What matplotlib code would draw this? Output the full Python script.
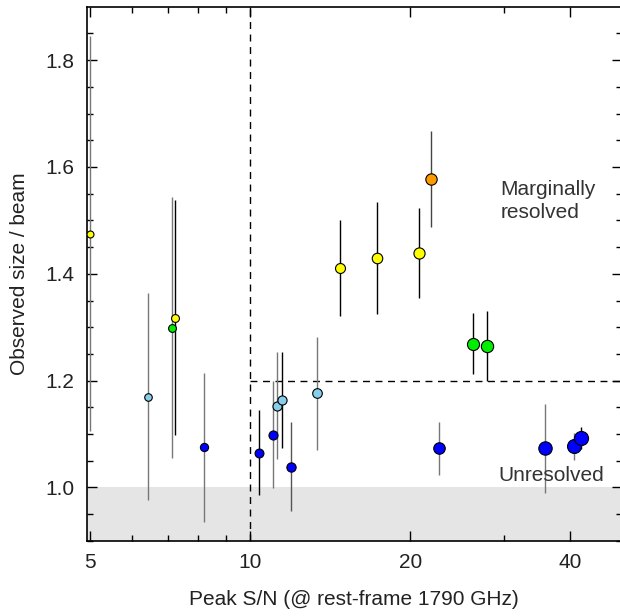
import numpy as np
import matplotlib
matplotlib.use("Agg")
import matplotlib.pyplot as plt
from matplotlib.ticker import FixedLocator, NullFormatter

plt.rcParams['font.family'] = ['Liberation Sans', 'DejaVu Sans']

# Données
snr = [5.0, 6.43, 7.13, 7.23, 8.19, 10.4, 11.05, 11.24, 11.49, 11.94, 13.37,
       14.77, 17.34, 20.8, 21.9, 22.66, 26.27, 27.92, 35.8, 40.6, 41.9]
size = [1.475, 1.170, 1.299, 1.318, 1.075, 1.065, 1.099, 1.153, 1.164, 1.039, 1.176,
        1.411, 1.430, 1.439, 1.578, 1.073, 1.269, 1.265, 1.073, 1.077, 1.093]
err = [0.37, 0.194, 0.244, 0.22, 0.139, 0.08, 0.10, 0.10, 0.09, 0.084, 0.105,
       0.09, 0.105, 0.085, 0.09, 0.05, 0.057, 0.066, 0.084, 0.025, 0.021]

# Couleurs des points et des barres d'erreur
colors = ['#ffff00', '#87ceeb', '#00ee00', '#ffff00', '#0000ff', '#0000ff', '#0000ff',
          '#87ceeb', '#87ceeb', '#0000ff', '#87ceeb', '#ffff00', '#ffff00', '#ffff00',
          '#ff9900', '#0000ff', '#00ee00', '#00ee00', '#0000ff', '#0000ff', '#0000ff']
ecolors = ['#777777', '#777777', '#777777', 'black', '#777777', 'black', '#777777',
           '#777777', 'black', '#555555', '#777777', 'black', 'black', 'black',
           '#444444', '#777777', 'black', 'black', '#777777', '#777777', 'black']

xticks = [5, 10, 20, 40]
xminor = [6, 7, 8, 9, 30]

fig = plt.figure(figsize=(6.2, 6.16), dpi=100)
ax = fig.add_axes([0.140, 0.122, 0.863, 0.867])

ax.set_xscale('log')
ax.set_xlim(4.935, 50.0)
ax.set_ylim(0.9, 1.9)

# Zone grise (non résolu)
ax.axhspan(0.9, 1.0, color='#e5e5e5', zorder=0, lw=0)

# Lignes de séparation
ax.axvline(10, color='black', lw=1.0, ls=(0, (5, 4)), zorder=1)
ax.plot([10, 50.0], [1.2, 1.2], color='black', lw=1.0, ls=(0, (5, 4)), zorder=1)

for x, y, e, c, ec in zip(snr, size, err, colors, ecolors):
    ms = 5.0 * (x / 5.0) ** (1 / 3)
    ax.errorbar(x, y, yerr=e, fmt='none', ecolor=ec, elinewidth=1.0, capsize=0, zorder=2)
    ax.scatter([x], [y], s=ms ** 2, color=c, edgecolors='black', linewidths=0.8, zorder=3)

ax.text(29.6, 1.536, 'Marginally\nresolved', fontsize=15, color='#333333',
        ha='left', va='center', linespacing=1.3)
ax.text(46.4, 1.022, 'Unresolved', fontsize=15, color='#333333',
        ha='right', va='center')

# Axes et graduations
ax.xaxis.set_major_locator(FixedLocator(xticks))
ax.xaxis.set_minor_locator(FixedLocator(xminor))
ax.xaxis.set_minor_formatter(NullFormatter())
ax.set_xticklabels([str(t) for t in xticks])
ax.set_yticks([1.0, 1.2, 1.4, 1.6, 1.8])
ax.set_yticks(np.arange(0.9, 1.9, 0.05), minor=True)
ax.tick_params(which='both', direction='in', top=True, right=True, labelsize=15,
               labelcolor='#222222', width=1.0)
ax.tick_params(which='major', length=7, pad=9)
ax.tick_params(which='minor', length=4)
for s in ax.spines.values():
    s.set_linewidth(1.2)

ax.set_xlabel('Peak S/N (@ rest-frame 1790 GHz)', fontsize=15, color='#222222', labelpad=13)
ax.set_ylabel('Observed size / beam', fontsize=15, color='#222222', labelpad=12)

fig.savefig('out.png', dpi=100)
